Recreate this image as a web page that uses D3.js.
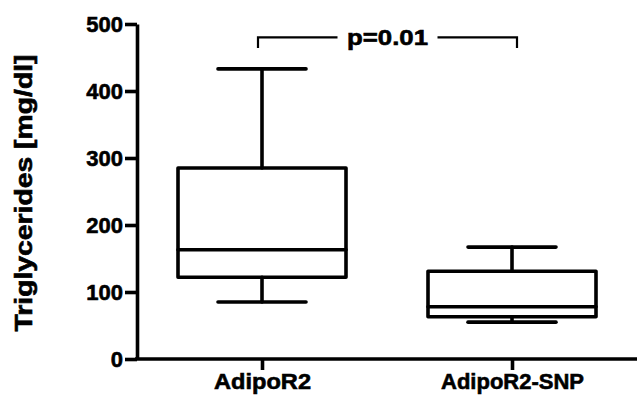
<!DOCTYPE html>
<html>
<head>
<meta charset="utf-8">
<script src="https://cdn.jsdelivr.net/npm/d3@7"></script>
<style>
  body { margin: 0; background: #fff; }
  svg text { font-family: "Liberation Sans", Arial, sans-serif; font-weight: bold; fill: #000; stroke: #000; stroke-width: 0.6px; }
</style>
</head>
<body>
<div id="container"></div>
<script>
// data
const groups = ["AdipoR2", "AdipoR2-SNP"];
const mins    = [85, 55];
const q1s     = [122, 63];
const medians = [163, 78];
const q3s     = [285, 131];
const maxs    = [433, 167];
const yTicks  = [0, 100, 200, 300, 400, 500];
const pLabel  = "p=0.01";
const yTitle  = "Triglycerides [mg/dl]";

const width = 638, height = 396;
const container = d3.select("#container");

const svg = container.append("svg")
    .attr("width", width)
    .attr("height", height);

const x = d3.scalePoint().domain(groups).range([137, 637]).padding(0.5);
const y = d3.scaleLinear().domain([0, 500]).range([359, 24]);

const boxHalf = 84, capHalf = 44;
const heavy = 3.6;

const boxes = groups.map((g, i) => ({
    g, min: mins[i], q1: q1s[i], med: medians[i], q3: q3s[i], max: maxs[i]
}));

// axes
const yAxis = svg.append("g")
    .attr("transform", "translate(137,0)")
    .call(d3.axisLeft(y).tickValues(yTicks).tickSize(12).tickPadding(3).tickSizeOuter(0));
yAxis.select(".domain").attr("stroke-width", heavy);
yAxis.selectAll(".tick line").attr("stroke-width", heavy);
yAxis.selectAll(".tick text")
    .style("font-size", "22px")
    .attr("dy", "0.36em")
    .attr("x", -14);

const xAxis = svg.append("g")
    .attr("transform", "translate(0,359)")
    .call(d3.axisBottom(x).tickSize(11).tickPadding(6).tickSizeOuter(0));
xAxis.select(".domain").attr("stroke-width", heavy).attr("d", "M135,0H637");
xAxis.selectAll(".tick line").attr("stroke-width", heavy);
xAxis.selectAll(".tick text")
    .style("font-size", "22.5px")
    .attr("y", 14)
    .attr("dy", "0.71em")
    .attr("textLength", (d, i) => [97, 143][i])
    .attr("lengthAdjust", "spacingAndGlyphs");

// box plots
const box = svg.append("g")
    .attr("fill", "none")
    .attr("stroke", "#000")
    .attr("stroke-width", heavy)
    .attr("stroke-linecap", "round")
    .attr("stroke-linejoin", "round")
    .selectAll("g")
    .data(boxes)
    .join("g");

box.append("rect")
    .attr("x", d => x(d.g) - boxHalf)
    .attr("width", boxHalf * 2)
    .attr("y", d => y(d.q3))
    .attr("height", d => y(d.q1) - y(d.q3));

box.append("line")
    .attr("x1", d => x(d.g) - boxHalf)
    .attr("x2", d => x(d.g) + boxHalf)
    .attr("y1", d => y(d.med))
    .attr("y2", d => y(d.med));

box.append("line")
    .attr("x1", d => x(d.g)).attr("x2", d => x(d.g))
    .attr("y1", d => y(d.q3)).attr("y2", d => y(d.max));
box.append("line")
    .attr("x1", d => x(d.g)).attr("x2", d => x(d.g))
    .attr("y1", d => y(d.q1)).attr("y2", d => y(d.min));

box.append("line")
    .attr("x1", d => x(d.g) - capHalf).attr("x2", d => x(d.g) + capHalf)
    .attr("y1", d => y(d.max)).attr("y2", d => y(d.max));
box.append("line")
    .attr("x1", d => x(d.g) - capHalf).attr("x2", d => x(d.g) + capHalf)
    .attr("y1", d => y(d.min)).attr("y2", d => y(d.min));

// significance bracket
const bx1 = x(groups[0]) - 4, bx2 = x(groups[1]) + 5;
const bTop = y(480), bBot = y(464);
const mid = (bx1 + bx2) / 2;
const bracket = svg.append("g")
    .attr("fill", "none")
    .attr("stroke", "#000")
    .attr("stroke-width", 2.2);
bracket.append("path").attr("d", `M${bx1},${bBot}V${bTop}H${mid - 50}`);
bracket.append("path").attr("d", `M${mid + 50},${bTop}H${bx2}V${bBot}`);
svg.append("text")
    .attr("x", mid)
    .attr("y", bTop)
    .attr("dy", "0.36em")
    .attr("text-anchor", "middle")
    .style("font-size", "22px")
    .attr("textLength", 81)
    .attr("lengthAdjust", "spacingAndGlyphs")
    .text(pLabel);

// y title
svg.append("text")
    .attr("transform", `translate(32,${193})rotate(-90)`)
    .attr("text-anchor", "middle")
    .style("font-size", "23px")
    .attr("textLength", 277)
    .attr("lengthAdjust", "spacingAndGlyphs")
    .text(yTitle);
</script>
</body>
</html>
